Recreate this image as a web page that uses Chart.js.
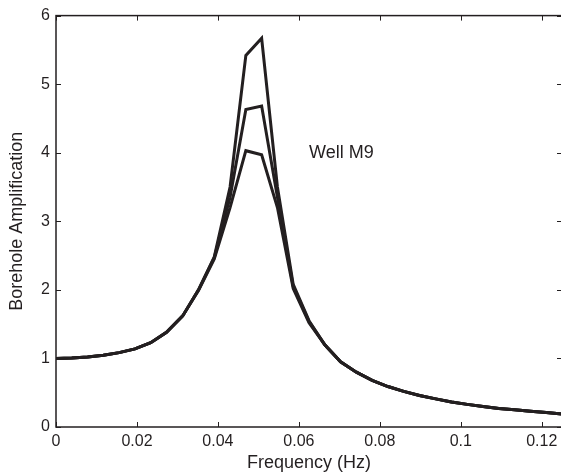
<!DOCTYPE html>
<html lang="en">
<head>
  <meta charset="UTF-8" />
  <title>Borehole Amplification - Well M9</title>
  <style>
    html, body {
      margin: 0;
      padding: 0;
      background: #fff;
      overflow: hidden;
    }
    #wrap {
      width: 563px;
      height: 474px;
    }
  </style>
  <script src="https://cdn.jsdelivr.net/npm/chart.js"></script>
</head>
<body>
  <div id="wrap">
    <canvas id="ampChart" width="563" height="474"></canvas>
  </div>
  <script>
    // frequency samples (Hz)
    const freqs = [0, 0.0039, 0.0078, 0.0117, 0.0156, 0.0195, 0.0234, 0.0273, 0.0313, 0.0352,
      0.0391, 0.043, 0.0469, 0.0508, 0.0547, 0.0586, 0.0625, 0.0664, 0.0703, 0.0742,
      0.0781, 0.082, 0.0859, 0.0898, 0.0938, 0.0977, 0.1016, 0.1055, 0.1094, 0.1133,
      0.1172, 0.1211, 0.125];

    // three amplification curves, highest peak first
    const ampHigh = [1.0, 1.005, 1.02, 1.045, 1.085, 1.14, 1.23, 1.38, 1.62, 2.0,
      2.48, 3.5, 5.42, 5.67, 3.5, 2.08, 1.55, 1.2, 0.95, 0.8,
      0.68, 0.59, 0.52, 0.46, 0.41, 0.365, 0.33, 0.3, 0.27, 0.25,
      0.23, 0.21, 0.19];
    const ampMid = [1.0, 1.005, 1.02, 1.045, 1.085, 1.14, 1.23, 1.38, 1.62, 2.0,
      2.47, 3.35, 4.63, 4.68, 3.35, 2.05, 1.54, 1.2, 0.95, 0.8,
      0.68, 0.59, 0.52, 0.46, 0.41, 0.365, 0.33, 0.3, 0.27, 0.25,
      0.23, 0.21, 0.19];
    const ampLow = [1.0, 1.005, 1.02, 1.045, 1.085, 1.14, 1.23, 1.38, 1.62, 1.99,
      2.45, 3.2, 4.03, 3.97, 3.2, 2.02, 1.52, 1.2, 0.95, 0.8,
      0.68, 0.59, 0.52, 0.46, 0.41, 0.365, 0.33, 0.3, 0.27, 0.25,
      0.23, 0.21, 0.19];

    const xTickVals = [0, 0.02, 0.04, 0.06, 0.08, 0.1, 0.12];
    const yTickVals = [0, 1, 2, 3, 4, 5, 6];

    const wellLabel = "Well M9";
    const wellLabelAt = { x: 0.0625, y: 4.0 };

    const ink = "#231f20";
    const fontFam = "'Liberation Sans', Arial, Helvetica, sans-serif";

    function toPoints(ys) {
      return freqs.map((f, i) => ({ x: f, y: ys[i] }));
    }

    function lineSet(ys) {
      return {
        data: toPoints(ys),
        borderColor: ink,
        borderWidth: 3,
        pointRadius: 0,
        tension: 0,
        fill: false
      };
    }

    // MATLAB-like box with inward ticks, plus the text label
    const framePlugin = {
      id: "frame",
      afterDraw(chart) {
        const { ctx, chartArea: a, scales } = chart;
        const xs = scales.x, ys = scales.y;
        const len = 5;
        ctx.save();
        ctx.strokeStyle = ink;
        ctx.lineWidth = 1.5;
        ctx.strokeRect(a.left, a.top, a.right - a.left, a.bottom - a.top);
        ctx.lineWidth = 1;
        ctx.beginPath();
        xTickVals.forEach(v => {
          const px = Math.round(xs.getPixelForValue(v)) + 0.5;
          ctx.moveTo(px, a.bottom); ctx.lineTo(px, a.bottom - len);
          ctx.moveTo(px, a.top); ctx.lineTo(px, a.top + len);
        });
        yTickVals.forEach(v => {
          const py = Math.round(ys.getPixelForValue(v)) + 0.5;
          ctx.moveTo(a.left, py); ctx.lineTo(a.left + len, py);
          ctx.moveTo(a.right, py); ctx.lineTo(a.right - len, py);
        });
        ctx.stroke();

        ctx.fillStyle = ink;
        ctx.font = "18px " + fontFam;
        ctx.textAlign = "left";
        ctx.textBaseline = "middle";
        ctx.fillText(wellLabel, xs.getPixelForValue(wellLabelAt.x), ys.getPixelForValue(wellLabelAt.y));
        ctx.restore();
      }
    };

    new Chart(document.getElementById("ampChart"), {
      type: "line",
      data: {
        datasets: [lineSet(ampHigh), lineSet(ampMid), lineSet(ampLow)]
      },
      options: {
        responsive: false,
        animation: false,
        layout: { padding: { top: 13, right: 1, left: 0, bottom: 0 } },
        plugins: {
          legend: { display: false },
          tooltip: { enabled: false }
        },
        scales: {
          x: {
            type: "linear",
            min: 0,
            max: 0.125,
            grid: { display: false, drawTicks: false },
            border: { display: false },
            afterFit(scale) { scale.height = 47; },
            afterBuildTicks(scale) { scale.ticks = xTickVals.map(v => ({ value: v })); },
            ticks: {
              padding: 5,
              color: ink,
              font: { family: fontFam, size: 16 },
              maxRotation: 0,
              autoSkip: false,
              callback: v => String(+v.toFixed(3))
            },
            title: {
              display: true,
              text: "Frequency (Hz)",
              color: ink,
              font: { family: fontFam, size: 18 },
              padding: { top: 0, bottom: 0 }
            }
          },
          y: {
            min: 0,
            max: 6,
            grid: { display: false, drawTicks: false },
            border: { display: false },
            afterFit(scale) { scale.width = 56; },
            afterBuildTicks(scale) { scale.ticks = yTickVals.map(v => ({ value: v })); },
            ticks: {
              padding: 6,
              color: ink,
              font: { family: fontFam, size: 16 }
            },
            title: {
              display: true,
              text: "Borehole Amplification",
              color: ink,
              font: { family: fontFam, size: 18 },
              padding: { top: 6, bottom: 0 }
            }
          }
        }
      },
      plugins: [framePlugin]
    });
  </script>
</body>
</html>
